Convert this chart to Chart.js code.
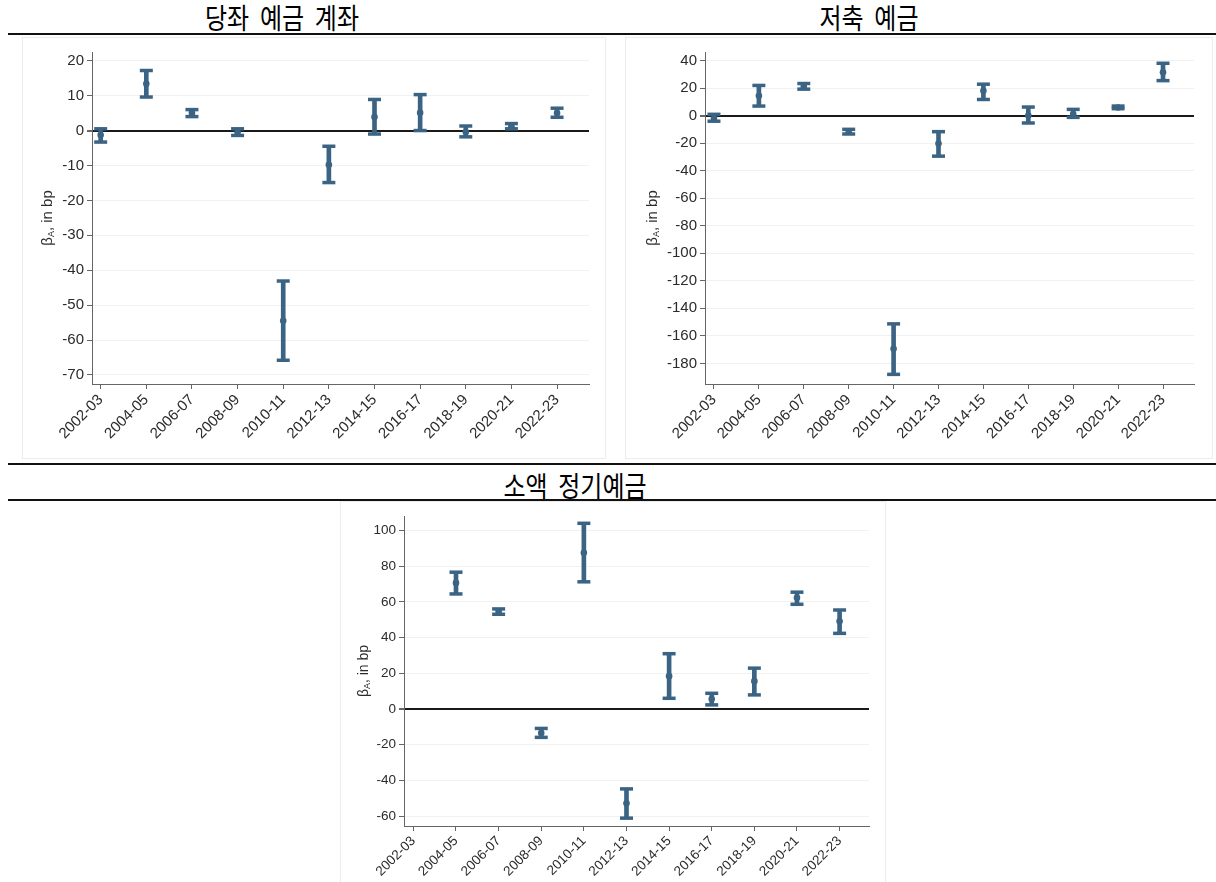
<!DOCTYPE html>
<html lang="ko">
<head>
<meta charset="utf-8">
<script src="https://cdn.jsdelivr.net/npm/chart.js@4.4.1/dist/chart.umd.min.js"></script>
<style>
    html, body { margin: 0; padding: 0; background: #fff; }
    body { width: 1216px; height: 882px; position: relative; overflow: hidden; }
    .titulo {
        position: absolute;
        font-family: "Noto Sans CJK KR", sans-serif;
        font-size: 24px;
        line-height: 24px;
        word-spacing: 4px;
        color: #000;
        white-space: nowrap;
        transform: translateX(-50%) scaleY(1.2);
        transform-origin: center bottom;
    }
    .linha { position: absolute; left: 8px; right: 0; height: 2px; background: #111; }
    .painel { position: absolute; border: 1px solid #ececec; box-sizing: border-box; }
    canvas { position: absolute; }
</style>
</head>
<body>

<div class="titulo" style="left:282px; top:7px;">당좌 예금 계좌</div>
<div class="titulo" style="left:869px; top:7px;">저축 예금</div>
<div class="linha" style="top:33px;"></div>
<div class="painel" style="left:22px; top:37px; width:584px; height:422px;"></div>
<div class="painel" style="left:625px; top:37px; width:588px; height:422px;"></div>
<div class="linha" style="top:463px;"></div>
<div class="titulo" style="left:575px; top:475px;">소액 정기예금</div>
<div class="linha" style="top:499px;"></div>
<div class="painel" style="left:340px; top:501px; width:546px; height:400px;"></div>

<canvas id="grafico-corrente" width="610" height="423" style="left:0; top:37px;"></canvas>
<canvas id="grafico-poupanca" width="606" height="423" style="left:610px; top:37px;"></canvas>
<canvas id="grafico-prazo" width="546" height="380" style="left:340px; top:502px;"></canvas>

<script>
const periodos = ['2002-03', '2004-05', '2006-07', '2008-09', '2010-11', '2012-13', '2014-15', '2016-17', '2018-19', '2020-21', '2022-23'];

// 당좌 예금 계좌
const correnteMedia = [-1.3, 13.4, 5.0, -0.5, -54.5, -9.8, 3.9, 5.1, -0.4, 1.2, 5.0];
const correnteInf = [-3.3, 9.6, 4.0, -1.4, -65.8, -14.9, -1.0, 0.0, -1.8, 0.5, 3.8];
const correnteSup = [0.5, 17.2, 6.0, 0.5, -43.1, -4.5, 8.9, 10.3, 1.3, 2.0, 6.4];
const correnteTicks = [-70, -60, -50, -40, -30, -20, -10, 0, 10, 20];

// 저축 예금
const poupancaMedia = [-2.0, 14.5, 21.2, -11.6, -169.4, -20.2, 18.1, 0.2, 1.2, 6.0, 31.6];
const poupancaInf = [-4.0, 7.0, 19.3, -13.3, -188.0, -29.4, 11.8, -5.3, -1.2, 5.1, 25.5];
const poupancaSup = [1.0, 22.0, 23.4, -9.9, -151.3, -11.6, 22.9, 6.3, 4.6, 7.0, 38.1];
const poupancaTicks = [-180, -160, -140, -120, -100, -80, -60, -40, -20, 0, 20, 40];

// 소액 정기예금
const prazoMedia = [null, 70.7, 54.6, -13.5, 87.6, -52.9, 18.4, 5.6, 15.6, 62.3, 49.2];
const prazoInf = [null, 64.5, 53.1, -15.9, 71.3, -61.2, 6.0, 2.3, 7.9, 58.7, 42.4];
const prazoSup = [null, 76.7, 56.1, -10.9, 104.1, -44.8, 31.0, 8.8, 22.9, 65.5, 55.5];
const prazoTicks = [-60, -40, -20, 0, 20, 40, 60, 80, 100];

const cor = '#3b6484';

// titulo do eixo y com o "A" subscrito
const tituloY = {
    id: 'tituloY',
    afterDraw(chart, args, opts) {
        const { ctx, chartArea } = chart;
        const x = chartArea.left - opts.offset;
        const y = (chartArea.top + chartArea.bottom) / 2;
        const partes = [
            { t: 'β', f: opts.size + 'px "Liberation Sans", Arial', dy: 0 },
            { t: 'A', f: Math.round(opts.size * 0.62) + 'px "Liberation Sans", Arial', dy: 2 },
            { t: ', in bp', f: opts.size + 'px "Liberation Sans", Arial', dy: 0 }
        ];
        ctx.save();
        ctx.translate(x, y);
        ctx.rotate(-Math.PI / 2);
        ctx.fillStyle = '#2b2b2b';
        ctx.textBaseline = 'alphabetic';
        let total = 0;
        partes.forEach(p => { ctx.font = p.f; p.w = ctx.measureText(p.t).width; total += p.w; });
        let u = -total / 2;
        partes.forEach(p => {
            ctx.font = p.f;
            ctx.fillText(p.t, u, 5 + p.dy);
            u += p.w;
        });
        ctx.restore();
    }
};

function montarDatasets(media, inf, sup) {
    const idx = periodos.map((_, i) => i).filter(i => media[i] !== null);
    return [
        {
            type: 'bar',
            data: idx.map(i => ({ x: i, y: [inf[i], sup[i]] })),
            backgroundColor: cor,
            borderWidth: 0,
            barThickness: 4
        },
        {
            type: 'scatter',
            data: idx.map(i => ({ x: i, y: sup[i] })),
            pointStyle: 'line',
            radius: 6.5,
            borderWidth: 3.5,
            borderColor: cor
        },
        {
            type: 'scatter',
            data: idx.map(i => ({ x: i, y: inf[i] })),
            pointStyle: 'line',
            radius: 6.5,
            borderWidth: 3.5,
            borderColor: cor
        },
        {
            type: 'scatter',
            data: idx.map(i => ({ x: i, y: media[i] })),
            pointStyle: 'circle',
            radius: 3.3,
            backgroundColor: cor,
            borderWidth: 0
        }
    ];
}

function criarGrafico(id, media, inf, sup, ticksY, cfg) {
    const ctx = document.getElementById(id);
    const fonte = { family: '"Liberation Sans", Arial, sans-serif', size: cfg.fonte };
    return new Chart(ctx, {
        type: 'bar',
        data: { datasets: montarDatasets(media, inf, sup) },
        options: {
            responsive: false,
            animation: false,
            events: [],
            layout: { padding: { top: cfg.topo, right: cfg.direita, left: 0, bottom: 0 } },
            scales: {
                x: {
                    type: 'linear',
                    offset: false,
                    min: cfg.xMin,
                    max: cfg.xMax,
                    afterBuildTicks: s => { s.ticks = periodos.map((_, i) => ({ value: i })); },
                    afterFit: s => { s.height = cfg.alturaX; },
                    border: { color: '#666', width: 1 },
                    grid: { offset: false, drawOnChartArea: false, drawTicks: true, tickLength: 5, tickColor: '#666' },
                    ticks: {
                        autoSkip: false,
                        maxRotation: 45,
                        minRotation: 45,
                        padding: 2,
                        color: '#2b2b2b',
                        font: fonte,
                        callback: v => periodos[v]
                    }
                },
                y: {
                    min: cfg.yMin,
                    max: cfg.yMax,
                    afterBuildTicks: s => { s.ticks = ticksY.map(v => ({ value: v })); },
                    afterFit: s => { s.width = cfg.larguraY; },
                    border: { color: '#666', width: 1 },
                    grid: {
                        color: c => c.tick && c.tick.value === 0 ? '#1a1a1a' : '#f1f1f1',
                        lineWidth: c => c.tick && c.tick.value === 0 ? 2 : 1,
                        tickLength: 5,
                        tickColor: '#666'
                    },
                    ticks: { color: '#2b2b2b', font: fonte, padding: 3 }
                }
            },
            plugins: {
                legend: { display: false },
                tooltip: { enabled: false },
                tituloY: { offset: cfg.offsetTitulo, size: cfg.fonteTitulo }
            }
        },
        plugins: [tituloY]
    });
}

criarGrafico('grafico-corrente', correnteMedia, correnteInf, correnteSup, correnteTicks, {
    xMin: -0.19, xMax: 10.7, yMin: -72.6, yMax: 22.5,
    topo: 15, direita: 21, alturaX: 76, larguraY: 92, fonte: 15, fonteTitulo: 15, offsetTitulo: 45
});

criarGrafico('grafico-poupanca', poupancaMedia, poupancaInf, poupancaSup, poupancaTicks, {
    xMin: -0.2, xMax: 10.69, yMin: -195, yMax: 46.3,
    topo: 15, direita: 22, alturaX: 76, larguraY: 95, fonte: 15, fonteTitulo: 15, offsetTitulo: 53
});

criarGrafico('grafico-prazo', prazoMedia, prazoInf, prazoSup, prazoTicks, {
    xMin: -0.22, xMax: 10.69, yMin: -65.6, yMax: 108.2,
    topo: 14, direita: 17, alturaX: 56, larguraY: 64, fonte: 13.5, fonteTitulo: 14, offsetTitulo: 41
});
</script>
</body>
</html>
